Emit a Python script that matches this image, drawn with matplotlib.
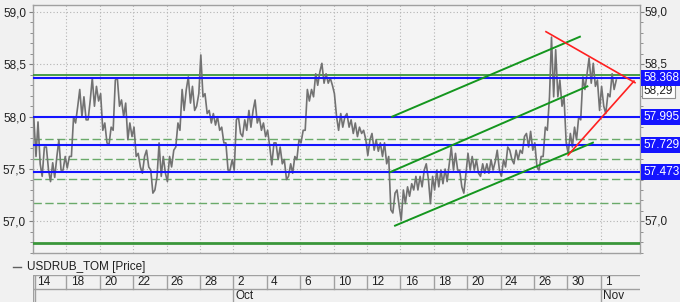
import matplotlib.pyplot as plt
from matplotlib.lines import Line2D
from matplotlib.ticker import MultipleLocator, FixedLocator, FuncFormatter
import matplotlib.transforms as mtransforms

plt.rcParams["font.family"] = ["Liberation Sans", "DejaVu Sans"]

# price bars, 4 per trading day, day 0 = Sep 14 (low, high)
BARS_PER_DAY = 4
bar_lows = [
    57.62, 57.55, 57.43, 57.49,  57.38, 57.42, 57.49, 57.49,
    57.51, 57.62, 57.94, 58.00,  57.97, 57.97, 58.10, 58.15,
    57.87, 57.75, 57.73, 57.87,  58.10, 58.00, 57.78, 57.81,
    57.62, 57.52, 57.46, 57.52,  57.27, 57.30, 57.43, 57.46,
    57.38, 57.52, 57.71, 57.87,  58.06, 58.13, 58.06, 58.10,
    58.19, 58.03, 57.94, 57.92,  57.87, 57.75, 57.49, 57.49,
    57.49, 57.84, 57.81, 57.87,  57.90, 57.94, 57.87, 57.81,
    57.71, 57.54, 57.59, 57.55,  57.40, 57.43, 57.46, 57.59,
    57.75, 57.87, 58.15, 58.19,  58.30, 58.32, 58.32, 58.30,
    58.00, 57.87, 57.90, 57.90,  57.84, 57.81, 57.84, 57.78,
    57.63, 57.68, 57.67, 57.62,  57.55, 57.11, 57.08, 57.14,
    57.01, 57.17, 57.24, 57.30,  57.30, 57.33, 57.40, 57.17,
    57.30, 57.33, 57.36, 57.38,  57.49, 57.49, 57.33, 57.27,
    57.49, 57.49, 57.46, 57.43,  57.46, 57.46, 57.49, 57.49,
    57.43, 57.52, 57.59, 57.55,  57.59, 57.65, 57.71, 57.68,
    57.52, 57.49, 57.62, 57.87,  58.19, 58.19, 58.10, 57.75,
    57.65, 57.71, 57.78, 57.97,  58.26, 58.32, 58.29, 58.06,
    58.10, 58.03, 58.19, 58.26,
]
bar_highs = [
    57.98, 57.95, 57.71, 57.71,  57.56, 57.62, 57.78, 57.62,
    57.62, 58.00, 58.10, 58.26,  58.19, 58.16, 58.37, 58.29,
    58.22, 57.94, 57.90, 58.35,  58.37, 58.16, 58.13, 57.94,
    57.90, 57.65, 57.62, 57.68,  57.49, 57.43, 57.75, 57.62,
    57.62, 57.68, 57.94, 58.26,  58.26, 58.38, 58.29, 58.22,
    58.59, 58.22, 58.06, 58.03,  58.00, 57.90, 57.75, 57.59,
    57.97, 58.00, 57.97, 58.06,  58.06, 58.16, 58.00, 57.94,
    57.87, 57.75, 57.75, 57.71,  57.59, 57.55, 57.62, 57.78,
    57.87, 58.26, 58.26, 58.41,  58.43, 58.51, 58.41, 58.37,
    58.22, 58.03, 58.00, 58.03,  57.97, 57.94, 57.90, 57.87,
    57.78, 57.84, 57.78, 57.75,  57.75, 57.62, 57.27, 57.30,
    57.30, 57.33, 57.36, 57.43,  57.43, 57.49, 57.55, 57.43,
    57.49, 57.49, 57.50, 57.55,  57.71, 57.65, 57.49, 57.46,
    57.65, 57.62, 57.59, 57.55,  57.55, 57.59, 57.57, 57.68,
    57.59, 57.71, 57.68, 57.68,  57.68, 57.81, 57.84, 57.86,
    57.75, 57.62, 57.90, 58.19,  58.76, 58.64, 58.35, 58.19,
    57.84, 57.90, 58.00, 58.38,  58.41, 58.56, 58.51, 58.35,
    58.29, 58.22, 58.41, 58.35,
]

day_labels = ["14", "18", "20", "22", "26", "28", "2", "4", "6",
              "10", "12", "16", "18", "20", "24", "26", "30", "1"]
month_days = [12, 34]
month_names = ["Oct", "Nov"]

y_ticks = [57.0, 57.5, 58.0, 58.5, 59.0]
right_labels = [57.0, 58.5, 59.0]   # the others sit under the level boxes
blue_levels = [58.368, 57.995, 57.729, 57.473]
fib_solid = [58.395, 56.797]
fib_dashed = [57.784, 57.593, 57.405, 57.174]
last_price = 58.29

# trend channel and triangle, (day, price) pairs
channel_lines = [
    [(21.5, 58.000), (32.75, 58.764)],
    [(21.38, 57.470), (33.2, 58.290)],
    [(21.68, 56.959), (33.53, 57.752)],
]
triangle_lines = [
    [(30.72, 58.812), (36.05, 58.325)],
    [(32.05, 57.634), (35.99, 58.340)],
]

BG = "#f1f1f1"
GRID = "#b4b4b4"
FRAME = "#a0a0a0"
BLUE = "#1414ff"
TXT = "#202020"

W, H = 680, 302
fig = plt.figure(figsize=(W / 100, H / 100), dpi=100, facecolor=BG)
ax = fig.add_axes([33 / W, 49 / H, 607 / W, 248 / H], facecolor="#f4f4f4")
x_max = 36.35
ax.set_xlim(0, x_max)
ax.set_ylim(56.698, 59.067)

for s in ax.spines.values():
    s.set_color(FRAME)
    s.set_linewidth(1)

# grid
for d in range(0, 36, 2):
    ax.axvline(d, color=GRID, lw=0.8, ls=(0, (1, 2)), zorder=1)
for v in y_ticks:
    ax.axhline(v, color=GRID, lw=0.8, ls=(0, (1, 2)), zorder=1)

# fibonacci levels
for v in fib_dashed:
    ax.axhline(v, color="#6aaa6a", lw=1, ls=(0, (6, 2.5)), zorder=2)
ax.axhline(fib_solid[0], color="#3a963a", lw=1.3, zorder=3)
ax.axhline(fib_solid[1], color="#3a963a", lw=2, zorder=3)

# price bars drawn as a low/high zigzag
xs, ys = [], []
n = len(bar_lows)
for i in range(n):
    lo, hi = bar_lows[i], bar_highs[i]
    mid = (lo + hi) / 2
    nxt = (bar_lows[i + 1] + bar_highs[i + 1]) / 2 if i + 1 < n else mid
    first, second = (lo, hi) if nxt >= mid else (hi, lo)
    xs += [i / BARS_PER_DAY + 0.05, i / BARS_PER_DAY + 0.18]
    ys += [first, second]
ax.plot(xs, ys, color="#727272", lw=1.2, zorder=4)

# support / resistance levels
for v in blue_levels:
    ax.axhline(v, color=BLUE, lw=1.5, zorder=5)

for (x0, y0), (x1, y1) in channel_lines:
    ax.plot([x0, x1], [y0, y1], color="#14961e", lw=1.4, zorder=6)
for (x0, y0), (x1, y1) in triangle_lines:
    ax.plot([x0, x1], [y0, y1], color="#ff2020", lw=1.2, zorder=6)

# y axis: labels on the left, ticks on both sides
fmt = FuncFormatter(lambda v, p: f"{v:.1f}".replace(".", ","))
ax.yaxis.set_major_locator(FixedLocator(y_ticks))
ax.yaxis.set_minor_locator(MultipleLocator(0.1))
ax.yaxis.set_major_formatter(fmt)
ax.tick_params(axis="y", which="major", left=True, right=True, labelleft=True,
               labelright=False, length=3, pad=2, color="#808080",
               labelsize=8.5, labelcolor=TXT)
ax.tick_params(axis="y", which="minor", left=True, right=True, length=2,
               color="#808080")
ax.tick_params(axis="x", bottom=False, labelbottom=False)

trans = mtransforms.blended_transform_factory(ax.transAxes, ax.transData)
for v in right_labels:
    ax.text(1.008, v, fmt(v, None), transform=trans, ha="left", va="center",
            fontsize=8.5, color=TXT, clip_on=False)

# value boxes on the right
ax.text(1.006, last_price - 0.035, f"{last_price:.2f}".replace(".", ","),
        transform=trans, ha="left", va="center", fontsize=8.5, color=TXT,
        clip_on=False, zorder=7,
        bbox=dict(facecolor="white", edgecolor="#909090", pad=1.2, lw=0.8))
for v in blue_levels:
    ax.text(1.006, v, f"{v:.3f}", transform=trans, ha="left", va="center",
            fontsize=8.5, color="white", clip_on=False, zorder=8,
            bbox=dict(facecolor=BLUE, edgecolor="none", pad=1.6))

# legend
fig.add_artist(Line2D([13 / W, 21 / W], [1 - 267 / H] * 2, color="#606060", lw=1))
fig.text(27 / W, 1 - 267 / H, "USDRUB_TOM [Price]", fontsize=8.5,
         va="center", ha="left", color=TXT)

# date strip
ax2 = fig.add_axes([33 / W, 0, 607 / W, 27 / H])
ax2.set_xlim(0, x_max)
ax2.set_ylim(0, 1)
ax2.axis("off")
split = 0.48
ax2.plot([0, x_max], [1, 1], color=FRAME, lw=1)
ax2.plot([0, x_max], [split, split], color=FRAME, lw=1)
ax2.plot([0.12, 0.12], [0, 1], color=FRAME, lw=1)
for k, lab in enumerate(day_labels):
    d = 2 * k
    bottom = 0 if (d in month_days or d == 0) else split
    ax2.plot([d, d], [bottom, 1], color=FRAME, lw=1)
    ax2.text(d + 0.25, 0.74, lab, ha="left", va="center", fontsize=8.5,
             color=TXT)
for d, name in zip(month_days, month_names):
    ax2.text(d + 0.15, 0.22, name, ha="left", va="center", fontsize=8.5,
             color=TXT)

fig.savefig("out.png", dpi=100, facecolor=BG)
